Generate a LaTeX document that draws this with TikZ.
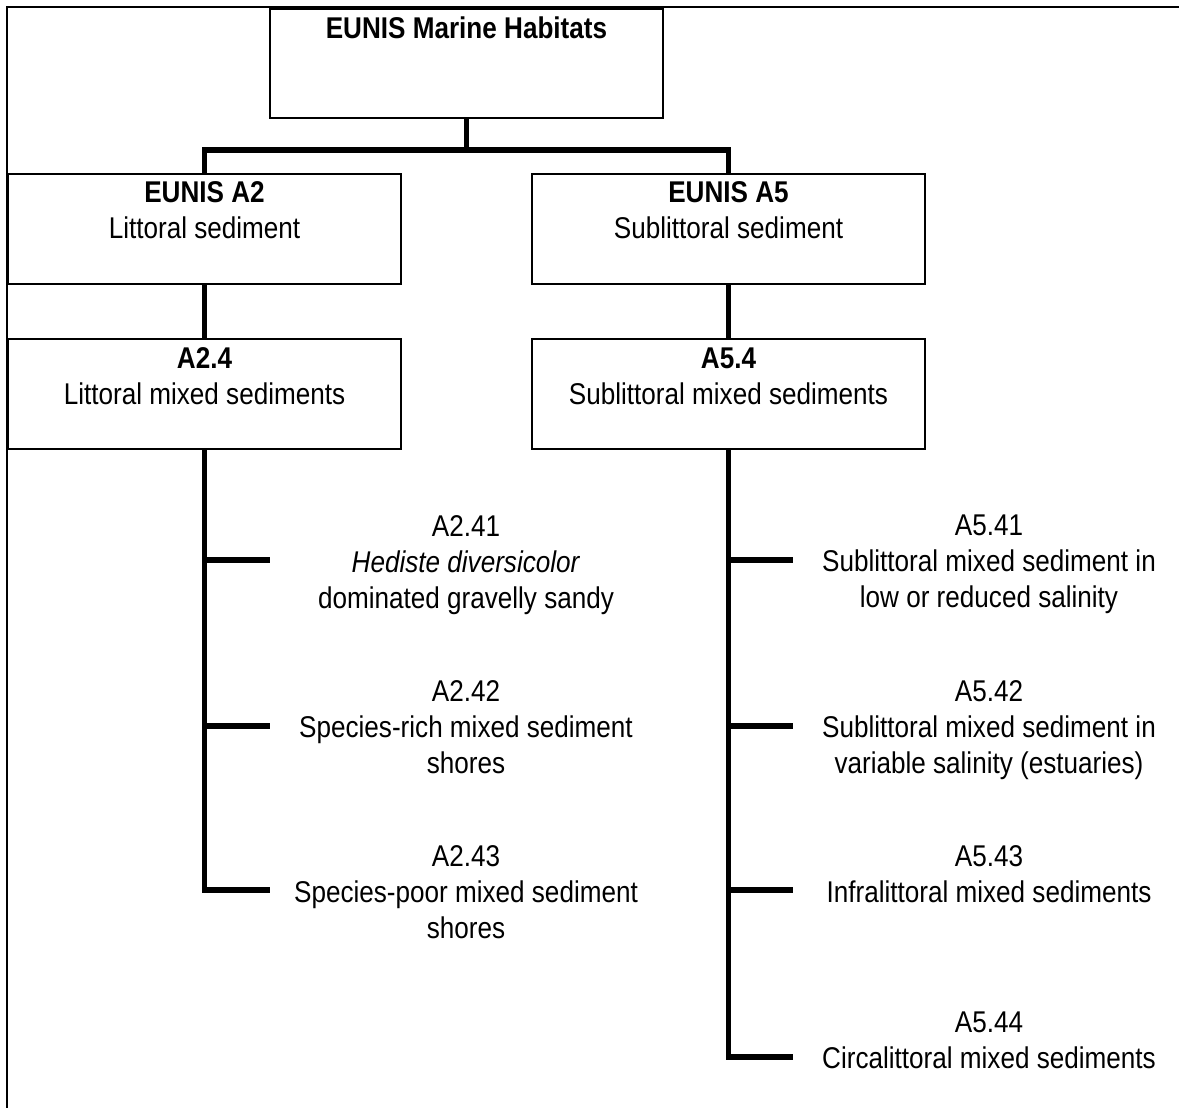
\documentclass[tikz,border=0pt]{standalone}
\usepackage{fontspec}
\setmainfont{Liberation Sans}[FakeStretch=0.87]
\begin{document}
\begin{tikzpicture}[x=1pt,y=-1pt,
  box/.style={draw, line width=2pt, minimum width=393pt, minimum height=110pt, inner sep=0pt},
  lbl/.style={inner sep=0pt, align=center, anchor=north, font=\fontsize{30}{36}\selectfont},
  conn/.style={line width=5.5pt},
  framerule/.style={line width=2.5pt}]
\useasboundingbox (0,0) rectangle (1179,1108);
% page frame (open at right and bottom)
\draw[framerule] (7,1108) -- (7,7) -- (1179,7);

% boxes
\node[box, minimum height=109pt] (top) at (466.5,63.5) {};
\node[box] (a2)  at (204.5,228.5) {};
\node[box] (a5)  at (728.5,228.5) {};
\node[box] (a24) at (204.5,394) {};
\node[box] (a54) at (728.5,394) {};

% box texts
\node[lbl] (topt) at (466.5,16.5) {\textbf{EUNIS Marine Habitats}};
\node[lbl] (a2t)  at (204.5,181.5) {\textbf{EUNIS A2}\\Littoral sediment};
\node[lbl] (a5t)  at (728.5,181.5) {\textbf{EUNIS A5}\\Sublittoral sediment};
\node[lbl] (a24t) at (204.5,347.5) {\textbf{A2.4}\\Littoral mixed sediments};
\node[lbl] (a54t) at (728.5,347.5) {\textbf{A5.4}\\Sublittoral mixed sediments};

% leaf labels
\node[lbl] (a241) at (466,515) {A2.41\\\textit{Hediste diversicolor}\\dominated gravelly sandy};
\node[lbl] (a242) at (466,680) {A2.42\\Species-rich mixed sediment\\shores};
\node[lbl] (a243) at (466,845) {A2.43\\Species-poor mixed sediment\\shores};
\node[lbl] (a541) at (989,515) {A5.41\\Sublittoral mixed sediment in\\low or reduced salinity};
\node[lbl] (a542) at (989,680) {A5.42\\Sublittoral mixed sediment in\\variable salinity (estuaries)};
\node[lbl] (a543) at (989,845) {A5.43\\Infralittoral mixed sediments};
\node[lbl] (a544) at (989,1012) {A5.44\\Circalittoral mixed sediments};

% branch ends
\coordinate (bar) at (0,150);
\coordinate (l1) at (270,560);
\coordinate (l2) at (270,726);
\coordinate (l3) at (270,890);
\coordinate (r1) at (793,560);
\coordinate (r2) at (793,726);
\coordinate (r3) at (793,890);
\coordinate (r4) at (793,1057);

% connectors
\draw[conn] (top.south) -- (top.south |- bar);
\draw[conn] (a2.north) |- (a5.north |- bar) -- (a5.north);
\draw[conn] (a2.south) -- (a24.north);
\draw[conn] (a5.south) -- (a54.north);

\draw[conn] (a24.south) |- (l3);
\draw[conn] (a24.south |- l1) -- (l1);
\draw[conn] (a24.south |- l2) -- (l2);

\draw[conn] (a54.south) |- (r4);
\draw[conn] (a54.south |- r1) -- (r1);
\draw[conn] (a54.south |- r2) -- (r2);
\draw[conn] (a54.south |- r3) -- (r3);
\end{tikzpicture}
\end{document}
